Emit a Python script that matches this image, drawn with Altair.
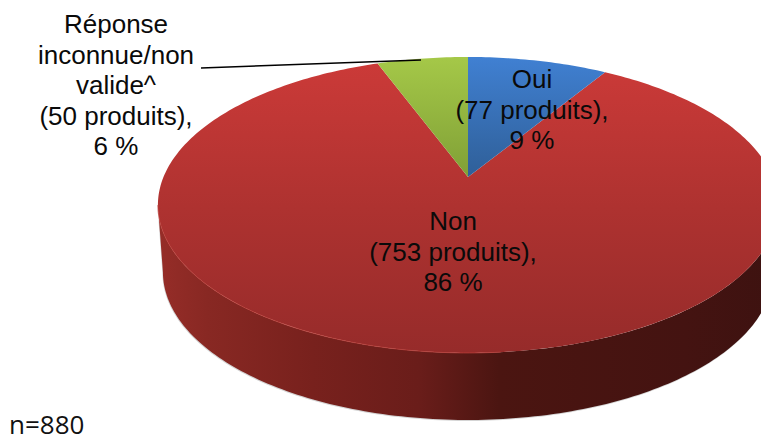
import numpy as np
import pandas as pd
import altair as alt

# ---- chart values
categories = ["Oui", "Non", "Réponse inconnue/non valide^"]
counts = [77, 753, 50]
label_texts = [
    "Oui\n(77 produits),\n9 %",
    "Non\n(753 produits),\n86 %",
    "Réponse\ninconnue/non\nvalide^\n(50 produits),\n6 %",
]
note = "n=880"

# ---- perspective pie geometry (pixels of the 769x443 picture)
CX, CY = 468.0, 177.0      # apex of the wedges
A, B, K = 304.5, 142.7, 0.189
DEPTH = 67.0
M = 8
RIGHT, BOTTOM = 761, 443   # page limits of the drawing surface

x_scale = alt.Scale(domain=[M, RIGHT], range=[0, RIGHT - M], nice=False, zero=False)
y_scale = alt.Scale(domain=[M, BOTTOM], range=[0, BOTTOM - M], nice=False, zero=False)
X = alt.X("x:Q", scale=x_scale, axis=None)
Y = alt.Y("y:Q", scale=y_scale, axis=None)


def rim(theta_deg):
    t = np.radians(theta_deg)
    sx, cy = np.sin(t), np.cos(t)
    w = 1 + K * cy
    return CX + A * sx / w, CY - B * cy / w


def wedge(a0, a1):
    th = np.linspace(a0, a1, max(3, int(abs(a1 - a0)) + 2))
    xs, ys = rim(th)
    xs = np.concatenate([[CX], xs])
    ys = np.concatenate([[CY], ys])
    return pd.DataFrame({"x": xs, "y": ys, "o": np.arange(len(xs))})


def grad(stops, vertical=True):
    return alt.LinearGradient(
        gradient="linear",
        x1=0, y1=0,
        x2=0 if vertical else 1,
        y2=1 if vertical else 0,
        stops=[alt.GradientStop(offset=o, color=c) for o, c in stops],
    )


def poly(df, fill, **kw):
    return (
        alt.Chart(df)
        .mark_line(fill=fill, strokeWidth=0, interpolate="linear", **kw)
        .encode(x=X, y=Y, order="o:Q")
    )


total = sum(counts)
edges = np.cumsum([0] + counts) / total * 360.0

# side wall: from left extreme, along the front, to right extreme
th_ext = np.degrees(np.arccos(-K))
front = np.linspace(360 - th_ext, th_ext, 160)
tx, ty = rim(front)
bx = CX + (tx - CX) * (305.0 / 310.0)
by = ty + DEPTH
side_df = pd.DataFrame({
    "x": np.concatenate([tx, bx[::-1]]),
    "y": np.concatenate([ty, by[::-1]]),
})
side_df["o"] = np.arange(len(side_df))
shadow_df = side_df.assign(y=side_df.y + 1.0, x=side_df.x - 0.5)

rim_th = np.linspace(360 - th_ext, 175, 90)
rx, ry = rim(rim_th)
rim_df = pd.DataFrame({"x": rx, "y": ry, "o": np.arange(len(rx))})

side_grad = grad([
    (0.0, "#962d28"), (0.08, "#882823"), (0.25, "#78211d"), (0.42, "#6a1d1a"),
    (0.55, "#4b1511"), (0.85, "#441311"), (1.0, "#3d1210"),
], vertical=False)
grads = [
    grad([(0, "#4080d2"), (1, "#2f5f98")]),
    grad([(0, "#cb3a38"), (0.5, "#ae3230"), (1, "#962b2a")]),
    grad([(0, "#a5c848"), (1, "#80a036")]),
]

layers = [
    poly(shadow_df, "#d4d4d4"),
    poly(side_df, side_grad),
]
# the big slice first so the small ones sit over it
for i in [1, 0, 2]:
    layers.append(poly(wedge(edges[i], edges[i + 1]), grads[i]))
layers.append(
    alt.Chart(rim_df)
    .mark_line(color="#bd3f39", strokeWidth=1, opacity=0.7)
    .encode(x=X, y=Y, order="o:Q")
)

# leader line
leader_df = pd.DataFrame({"x": [201, 421], "y": [68, 60], "o": [0, 1]})
layers.append(
    alt.Chart(leader_df)
    .mark_line(color="#000000", strokeWidth=1.6)
    .encode(x=X, y=Y, order="o:Q")
)

# labels: y is the centre of each block's first line
anchors = [(532, 80), (453, 222), (116, 25)]
lab_df = pd.DataFrame({
    "t": label_texts,
    "x": [a[0] for a in anchors],
    "y": [a[1] for a in anchors],
})
layers.append(
    alt.Chart(lab_df)
    .mark_text(
        font="Liberation Sans", fontSize=26, color="#0a0a0a",
        align="center", baseline="middle", lineBreak="\n", lineHeight=30.5,
    )
    .encode(x=X, y=Y, text="t:N")
)
note_df = pd.DataFrame({"t": [note], "x": [9], "y": [434]})
layers.append(
    alt.Chart(note_df)
    .mark_text(
        font="Open Sans", fontSize=26, color="#111111",
        align="left", baseline="alphabetic",
    )
    .encode(x=X, y=Y, text="t:N")
)

chart = (
    alt.layer(*layers)
    .properties(width=RIGHT - M, height=BOTTOM - M, padding=0, background="#ffffff",
                autosize=alt.AutoSizeParams(type="none"))
    .configure_view(stroke=None)
)

chart.save("out.html", embed_options={"renderer": "svg", "actions": False})
